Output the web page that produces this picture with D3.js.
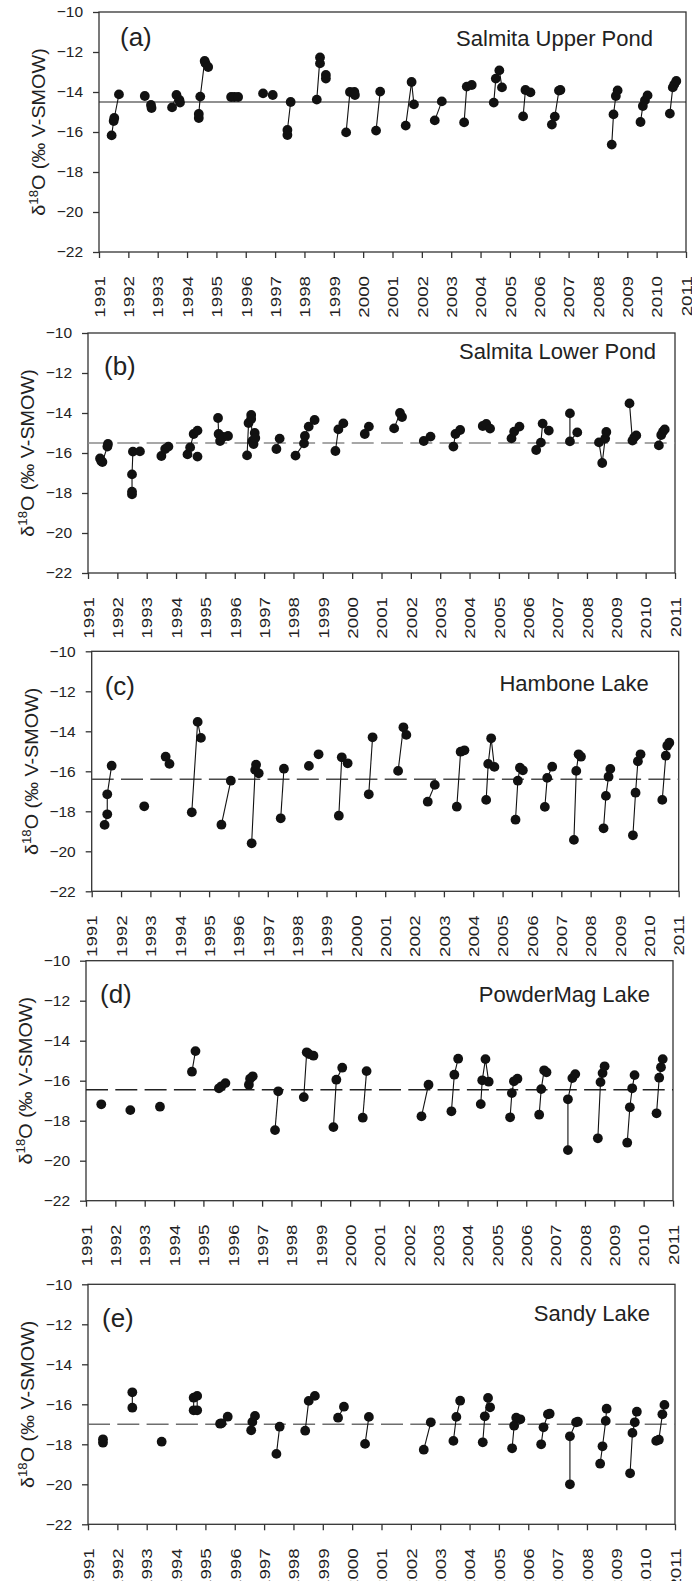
<!DOCTYPE html>
<html>
<head>
<meta charset="utf-8">
<script src="https://cdn.jsdelivr.net/npm/d3@7"></script>
<style>
  body { margin: 0; background: #fff; }
  text { font-family: Arial, "Liberation Sans", sans-serif; fill: #222; }
</style>
</head>
<body>
<div id="chart"></div>
<script>
// tick values shared by every panel
const years = d3.range(1991, 2012);
const yTicks = [-22, -20, -18, -16, -14, -12, -10];

const lakeNames = ['Salmita Upper Pond', 'Salmita Lower Pond', 'Hambone Lake', 'PowderMag Lake', 'Sandy Lake'];
const panelTags = ['(a)', '(b)', '(c)', '(d)', '(e)'];
// mean level drawn across each panel
const refLevels = [-14.5, -15.5, -16.4, -16.45, -17.0];

// each inner list = one sampling season [decimal year, d18O], joined by a line
const upperPond = [
  [[1991.43, -16.17], [1991.5, -15.45], [1991.52, -15.3], [1991.68, -14.12]],
  [[1992.56, -14.2]],
  [[1992.77, -14.65], [1992.79, -14.8]],
  [[1993.49, -14.77], [1993.64, -14.15], [1993.74, -14.4], [1993.76, -14.53]],
  [[1994.4, -15.3], [1994.4, -15.1], [1994.45, -14.23], [1994.6, -12.45], [1994.63, -12.57], [1994.72, -12.75]],
  [[1995.5, -14.25], [1995.61, -14.25], [1995.74, -14.25]],
  [[1996.59, -14.07]],
  [[1996.92, -14.15]],
  [[1997.42, -16.15], [1997.42, -15.9], [1997.53, -14.5]],
  [[1998.42, -14.38], [1998.53, -12.27], [1998.53, -12.57]],
  [[1998.73, -13.15], [1998.73, -13.33]],
  [[1999.42, -16.02], [1999.55, -14.0], [1999.7, -14.0], [1999.72, -14.15]],
  [[2000.44, -15.93], [2000.58, -13.98]],
  [[2001.45, -15.68], [2001.65, -13.5], [2001.73, -14.62]],
  [[2002.44, -15.42], [2002.68, -14.47]],
  [[2003.44, -15.52], [2003.53, -13.73], [2003.7, -13.65]],
  [[2004.45, -14.53], [2004.52, -13.33], [2004.64, -12.92], [2004.73, -13.77]],
  [[2005.45, -15.22], [2005.53, -13.9], [2005.7, -14.02]],
  [[2006.43, -15.63], [2006.53, -15.23], [2006.67, -13.93], [2006.72, -13.9]],
  [[2008.47, -16.63], [2008.53, -15.12], [2008.61, -14.2], [2008.67, -13.92]],
  [[2009.45, -15.5], [2009.53, -14.7], [2009.6, -14.42], [2009.69, -14.17]],
  [[2010.45, -15.08], [2010.55, -13.77], [2010.6, -13.62], [2010.67, -13.45]]
];

const lowerPond = [
  [[1991.41, -16.27], [1991.45, -16.4], [1991.49, -16.45], [1991.66, -15.68], [1991.68, -15.55]],
  [[1992.5, -18.07], [1992.5, -17.93], [1992.5, -17.07], [1992.53, -15.93], [1992.77, -15.92]],
  [[1993.5, -16.15], [1993.63, -15.8], [1993.74, -15.68]],
  [[1994.39, -16.07], [1994.48, -15.72], [1994.6, -15.05], [1994.73, -14.88]],
  [[1994.73, -16.18]],
  [[1995.43, -14.25], [1995.45, -15.05], [1995.5, -15.4], [1995.6, -15.2], [1995.77, -15.15]],
  [[1996.42, -16.12], [1996.47, -14.5], [1996.56, -14.1]],
  [[1996.56, -14.3], [1996.6, -15.4], [1996.64, -15.55], [1996.68, -15.0], [1996.7, -15.25]],
  [[1997.42, -15.8], [1997.53, -15.28]],
  [[1998.07, -16.13], [1998.36, -15.52], [1998.39, -15.15], [1998.52, -14.68], [1998.72, -14.35]],
  [[1999.43, -15.9], [1999.53, -14.82], [1999.7, -14.52]],
  [[2000.43, -15.05], [2000.57, -14.68]],
  [[2001.43, -14.77], [2001.63, -14.0], [2001.7, -14.2]],
  [[2002.44, -15.4], [2002.67, -15.18]],
  [[2003.45, -15.68], [2003.52, -15.05], [2003.68, -14.85]],
  [[2004.45, -14.65], [2004.57, -14.55], [2004.7, -14.78]],
  [[2005.43, -15.27], [2005.52, -14.93], [2005.7, -14.68]],
  [[2006.27, -15.85], [2006.43, -15.48], [2006.49, -14.53], [2006.7, -14.88]],
  [[2007.42, -14.02], [2007.42, -15.42], [2007.67, -14.97]],
  [[2008.41, -15.47], [2008.52, -16.5], [2008.62, -15.28], [2008.66, -14.95]],
  [[2009.45, -13.52], [2009.55, -15.38], [2009.61, -15.22], [2009.68, -15.12]],
  [[2010.45, -15.62], [2010.53, -15.1], [2010.59, -14.93], [2010.65, -14.82]]
];

const hambone = [
  [[1991.44, -18.68], [1991.53, -18.15], [1991.53, -17.15], [1991.68, -15.72]],
  [[1992.79, -17.75]],
  [[1993.52, -15.27], [1993.65, -15.63]],
  [[1994.41, -18.05], [1994.61, -13.53], [1994.72, -14.33]],
  [[1995.42, -18.67], [1995.74, -16.47]],
  [[1996.45, -19.6], [1996.57, -15.93], [1996.6, -15.67], [1996.69, -16.1]],
  [[1997.44, -18.35], [1997.55, -15.87]],
  [[1998.4, -15.73]],
  [[1998.73, -15.15]],
  [[1999.42, -18.22], [1999.52, -15.3], [1999.72, -15.6]],
  [[2000.44, -17.15], [2000.57, -14.3]],
  [[2001.44, -15.98], [2001.62, -13.8], [2001.72, -14.18]],
  [[2002.45, -17.52], [2002.69, -16.68]],
  [[2003.44, -17.77], [2003.57, -15.02], [2003.7, -14.95]],
  [[2004.44, -17.43], [2004.51, -15.63], [2004.61, -14.35], [2004.72, -15.78]],
  [[2005.44, -18.42], [2005.52, -16.47], [2005.59, -15.82], [2005.69, -15.95]],
  [[2006.44, -17.78], [2006.52, -16.33], [2006.69, -15.77]],
  [[2007.43, -19.43], [2007.51, -15.98], [2007.59, -15.15], [2007.67, -15.27]],
  [[2008.44, -18.85], [2008.52, -17.23], [2008.61, -16.27], [2008.67, -15.88]],
  [[2009.44, -19.2], [2009.53, -17.07], [2009.61, -15.5], [2009.7, -15.15]],
  [[2010.44, -17.43], [2010.56, -15.22], [2010.61, -14.72], [2010.68, -14.57]]
];

const powderMag = [
  [[1991.52, -17.18]],
  [[1992.51, -17.47]],
  [[1993.52, -17.3]],
  [[1994.61, -15.55], [1994.73, -14.52]],
  [[1995.53, -16.38], [1995.61, -16.28], [1995.75, -16.12]],
  [[1996.55, -16.2], [1996.59, -15.9], [1996.68, -15.78]],
  [[1997.44, -18.47], [1997.55, -16.53]],
  [[1998.42, -16.82], [1998.52, -14.58], [1998.6, -14.67], [1998.75, -14.75]],
  [[1999.43, -18.32], [1999.53, -15.95], [1999.73, -15.35]],
  [[2000.43, -17.85], [2000.56, -15.52]],
  [[2002.43, -17.78], [2002.67, -16.2]],
  [[2003.45, -17.53], [2003.55, -15.7], [2003.68, -14.9]],
  [[2004.45, -17.17], [2004.5, -15.98], [2004.61, -14.92], [2004.72, -16.05]],
  [[2005.45, -17.83], [2005.51, -16.62], [2005.58, -16.03], [2005.7, -15.9]],
  [[2006.44, -17.7], [2006.51, -16.42], [2006.61, -15.48], [2006.69, -15.58]],
  [[2007.42, -19.47], [2007.42, -16.93], [2007.57, -15.87], [2007.67, -15.67]],
  [[2008.44, -18.88], [2008.53, -16.07], [2008.6, -15.62], [2008.67, -15.28]],
  [[2009.44, -19.1], [2009.53, -17.33], [2009.61, -16.38], [2009.69, -15.72]],
  [[2010.44, -17.63], [2010.53, -15.85], [2010.59, -15.33], [2010.65, -14.92]]
];

const sandy = [
  [[1991.51, -17.75], [1991.51, -17.92]],
  [[1992.51, -15.4], [1992.51, -16.17]],
  [[1993.51, -17.87]],
  [[1994.6, -15.67], [1994.6, -16.3]],
  [[1994.72, -15.58], [1994.72, -16.3]],
  [[1995.5, -16.97], [1995.55, -16.95], [1995.76, -16.62]],
  [[1996.56, -17.3], [1996.6, -16.88], [1996.69, -16.58]],
  [[1997.42, -18.48], [1997.53, -17.12]],
  [[1998.4, -17.32], [1998.52, -15.83], [1998.73, -15.58]],
  [[1999.52, -16.67], [1999.72, -16.12]],
  [[2000.44, -17.98], [2000.57, -16.63]],
  [[2002.44, -18.27], [2002.68, -16.9]],
  [[2003.45, -17.83], [2003.55, -16.63], [2003.68, -15.82]],
  [[2004.45, -17.9], [2004.52, -16.6], [2004.63, -15.68], [2004.7, -16.15]],
  [[2005.45, -18.2], [2005.52, -17.07], [2005.59, -16.67], [2005.73, -16.75]],
  [[2006.44, -18.0], [2006.52, -17.15], [2006.67, -16.5], [2006.73, -16.47]],
  [[2007.42, -20.0], [2007.42, -17.6], [2007.63, -16.9], [2007.69, -16.87]],
  [[2008.45, -18.97], [2008.53, -18.1], [2008.64, -16.83], [2008.67, -16.22]],
  [[2009.47, -19.45], [2009.55, -17.43], [2009.63, -16.9], [2009.7, -16.37]],
  [[2010.36, -17.83], [2010.45, -17.77], [2010.57, -16.5], [2010.64, -16.03]]
];

const seriesList = [upperPond, lowerPond, hambone, powderMag, sandy];

// where each panel sits on the page and how its mean line looks
const layout = [
  { x0: 99, top: 12, tag: [21, 34], title: [33, 34], refColor: '#222', dash: null },
  { x0: 88, top: 333, tag: [16, 42], title: [19, 26], refColor: '#8a8a8a', dash: '22,7.3' },
  { x0: 91.7, top: 651.3, tag: [13, 44], title: [30, 40], refColor: '#4a4a4a', dash: '22,7.3' },
  { x0: 86, top: 960.7, tag: [14, 42], title: [23, 41], refColor: '#222', dash: '22,7.3' },
  { x0: 88, top: 1284.3, tag: [14, 43], title: [25, 37], refColor: '#6e6e6e', dash: '22,7.3' }
];

const plotW = 587;
const plotH = 240;

const svg = d3.select('#chart')
  .append('svg')
  .attr('width', 692)
  .attr('height', 1581);

seriesList.forEach((series, i) => {
  const p = layout[i];

  const xScale = d3.scaleLinear().domain([1991, 2011]).range([0, plotW]);
  const yScale = d3.scaleLinear().domain([-22, -10]).range([plotH, 0]);

  const g = svg.append('g').attr('transform', `translate(${p.x0}, ${p.top})`);

  // x axis, years written sideways
  const xAxis = g.append('g')
    .attr('transform', `translate(0, ${plotH})`)
    .call(d3.axisBottom(xScale).tickValues(years).tickFormat(d3.format('d')).tickSize(6));
  xAxis.select('.domain').remove();
  xAxis.selectAll('line').attr('stroke', '#333').attr('stroke-width', 1.3);
  xAxis.selectAll('text')
    .attr('x', 0)
    .attr('y', 0)
    .attr('dy', '0.35em')
    .attr('text-anchor', 'end')
    .attr('transform', 'translate(0, 24) rotate(-90) scale(1.25, 1)')
    .style('font-size', '15px')
    .style('fill', '#222');

  // y axis
  const yAxis = g.append('g')
    .call(d3.axisLeft(yScale).tickValues(yTicks).tickSize(6).tickPadding(10));
  yAxis.select('.domain').remove();
  yAxis.selectAll('line').attr('stroke', '#333').attr('stroke-width', 1.3);
  yAxis.selectAll('text').style('font-size', '15.5px').style('fill', '#222');

  // plot frame
  g.append('rect')
    .attr('width', plotW)
    .attr('height', plotH)
    .attr('fill', 'none')
    .attr('stroke', '#333')
    .attr('stroke-width', 1.3);

  // y label
  const yl = g.append('text')
    .attr('text-anchor', 'middle')
    .attr('transform', `translate(-60, ${plotH / 2}) rotate(-90) scale(1.1, 1)`)
    .attr('dy', '0.35em')
    .style('font-size', '18px');
  yl.append('tspan').text('δ');
  yl.append('tspan').attr('dy', -7).style('font-size', '12px').text('18');
  yl.append('tspan').attr('dy', 7).text('O (‰ V-SMOW)');

  // panel letter and lake name
  g.append('text')
    .attr('x', p.tag[0])
    .attr('y', p.tag[1])
    .style('font-size', '26px')
    .text(panelTags[i]);
  g.append('text')
    .attr('x', plotW - p.title[0])
    .attr('y', p.title[1])
    .attr('text-anchor', 'end')
    .style('font-size', '22px')
    .text(lakeNames[i]);

  // mean line
  g.append('line')
    .attr('x1', 0)
    .attr('x2', plotW)
    .attr('y1', yScale(refLevels[i]))
    .attr('y2', yScale(refLevels[i]))
    .attr('stroke', p.refColor)
    .attr('stroke-width', p.dash ? 1.6 : 1.2)
    .attr('stroke-dasharray', p.dash);

  // season connectors
  const line = d3.line().x(d => xScale(d[0])).y(d => yScale(d[1]));
  g.selectAll('.season')
    .data(series.filter(s => s.length > 1))
    .enter()
    .append('path')
    .attr('class', 'season')
    .attr('d', line)
    .attr('fill', 'none')
    .attr('stroke', '#111')
    .attr('stroke-width', 1.1);

  // sample points
  g.selectAll('.pt')
    .data(series.flat())
    .enter()
    .append('circle')
    .attr('class', 'pt')
    .attr('cx', d => xScale(d[0]))
    .attr('cy', d => yScale(d[1]))
    .attr('r', 4.9)
    .attr('fill', '#111');
});
</script>
</body>
</html>
